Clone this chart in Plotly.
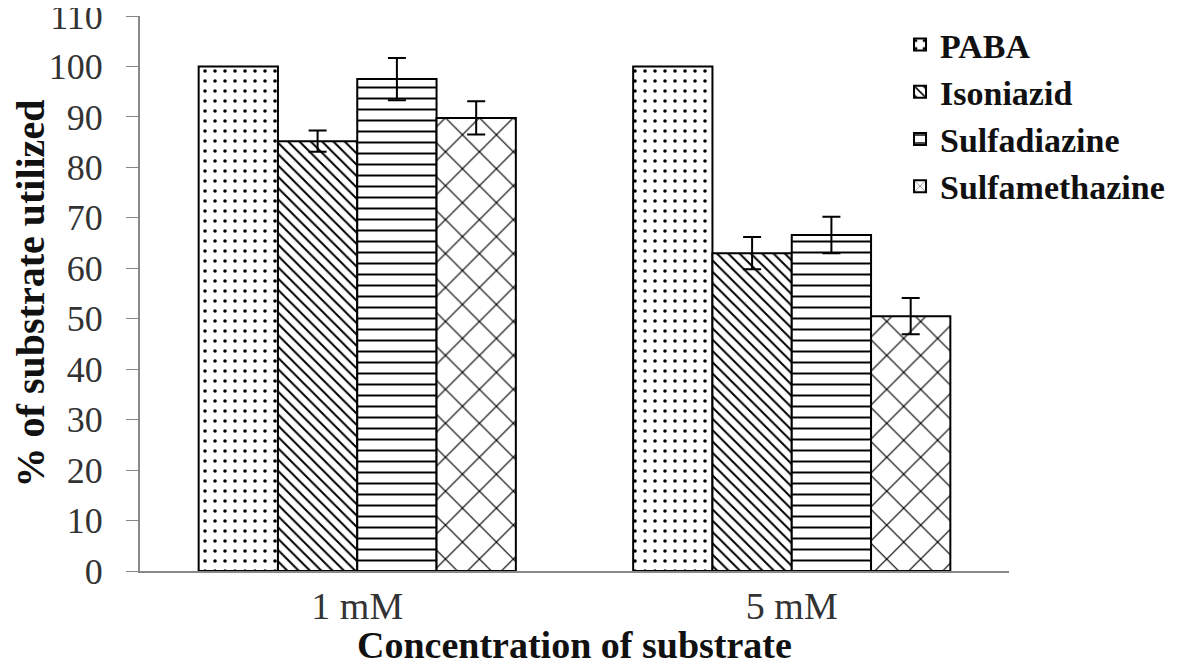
import plotly.graph_objects as go

categories = ["1 mM", "5 mM"]
series_names = ["PABA", "Isoniazid", "Sulfadiazine", "Sulfamethazine"]
paba = [100, 100]
isoniazid = [85.2, 63.0]
sulfadiazine = [97.5, 66.6]
sulfamethazine = [89.8, 50.5]
err_paba = [0, 0]
err_isoniazid = [2.1, 3.2]
err_sulfadiazine = [4.2, 3.6]
err_sulfamethazine = [3.3, 3.6]
y_ticks = list(range(0, 111, 10))

values = [paba, isoniazid, sulfadiazine, sulfamethazine]
errors = [err_paba, err_isoniazid, err_sulfadiazine, err_sulfamethazine]
shapes = [".", "\\", "-", "x"]
sizes = [10, 8, 11, 24]
solidity = [0.1, 0.25, 0.18, 0.1]

fig = go.Figure()
for name, v, e, sh, sz, so in zip(series_names, values, errors, shapes, sizes, solidity):
    show_err = any(x > 0 for x in e)
    fig.add_trace(go.Bar(
        name=name, x=categories, y=v,
        marker=dict(color="white",
                    line=dict(color="black", width=2),
                    pattern=dict(shape=sh, fgcolor="black", bgcolor="white",
                                 fgopacity=1, size=sz, solidity=so,
                                 fillmode="overlay")),
        error_y=dict(type="data", array=e, visible=show_err,
                     color="black", thickness=2, width=9),
    ))

font_family = "Liberation Serif, Times New Roman, serif"
fig.add_annotation(text="<b>Concentration of substrate</b>", xref="paper", yref="paper",
                   x=0.5, y=0, yanchor="middle", yshift=-74, showarrow=False,
                   font=dict(family=font_family, size=38, color="#111"))
fig.update_layout(
    width=1192, height=654,
    barmode="group", bargap=0.27, bargroupgap=0,
    plot_bgcolor="white", paper_bgcolor="white",
    margin=dict(l=132, r=191, t=8, b=91),
    font=dict(family=font_family, size=38, color="#333"),
    legend=dict(x=0.8746, xref="paper", y=1.0, yref="paper",
                xanchor="left", yanchor="top",
                font=dict(family=font_family, size=34, color="#111", weight="bold"),
                bgcolor="rgba(0,0,0,0)", tracegroupgap=0, itemwidth=30),
    xaxis=dict(showline=True, linecolor="#888", linewidth=2, ticks="",
               automargin=False, tickfont=dict(size=38)),
    yaxis=dict(range=[0, 110], tickvals=y_ticks, showline=True, linecolor="#888",
               linewidth=2, ticks="outside", ticklen=12, tickcolor="#888",
               showgrid=False, zeroline=False, automargin=False,
               ticklabeloverflow="allow", ticklabelstandoff=16,
               title=dict(text="<b>% of substrate utilized</b>", standoff=17,
                          font=dict(size=40, color="#111")),
               tickfont=dict(size=36)),
)
fig.write_html("out.html")
